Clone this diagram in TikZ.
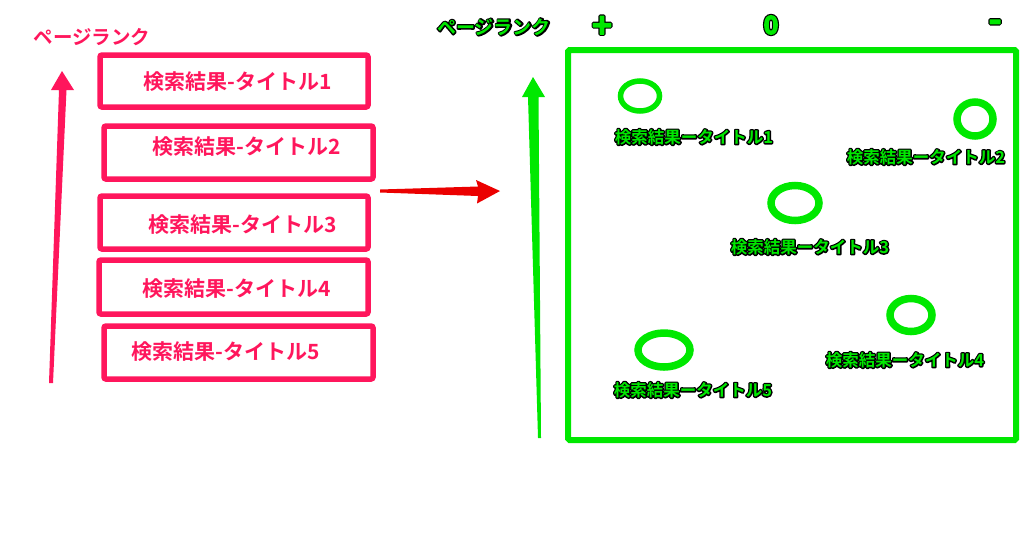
\documentclass[tikz,border=0pt]{standalone}
\usepackage{fontspec}
\newfontfamily\jp{Noto Sans CJK JP}[BoldFont={Noto Sans CJK JP Bold}]
\definecolor{pk}{RGB}{255,22,92}
\definecolor{gr}{RGB}{0,232,0}
\definecolor{rd}{RGB}{235,0,0}
\newcommand{\gtxt}[1]{\leavevmode\rlap{\special{pdf:literal direct 0 0 0 RG 1 Tr 2.8 w 1 J 1 j}#1\special{pdf:literal direct 0 Tr}}\textcolor{gr}{#1}}
\newcommand{\gbig}[1]{\leavevmode\rlap{\special{pdf:literal direct 0 0 0 RG 1 Tr 3.6 w 1 J 1 j}#1\special{pdf:literal direct 0 Tr}}\textcolor{gr}{\special{pdf:literal direct 0 0.91 0 RG 2 Tr 1.2 w 1 J 1 j}#1\special{pdf:literal direct 0 Tr}}}
\tikzset{
  pbox/.style={draw=pk, line width=5.5pt, rounded corners=2pt},
  ptext/.style={text=pk, font=\jp\bfseries\fontsize{21}{24}\selectfont, inner sep=0pt},
  gring/.style={draw=gr, line width=#1},
  glabel/.style={font=\jp\bfseries\fontsize{16.5}{19}\selectfont, inner sep=0pt},
  gtop/.style={font=\jp\bfseries\fontsize{19}{22}\selectfont, inner sep=0pt},
}
\begin{document}
\begin{tikzpicture}[x=1pt,y=-1pt]
\useasboundingbox (0,0) rectangle (1024,542);

% ---- left side ----
\node[ptext, font=\jp\bfseries\fontsize{19.5}{22}\selectfont] (ltitle) at (92,37) {ページランク};

\fill[pk] (49,383) -- (59,90) -- (51,90) -- (62,71) -- (74,90) -- (66.5,90) -- (53,383) -- cycle;

\draw[pbox] (100,55) rectangle (368,107);
\draw[pbox] (104,126) rectangle (373,179);
\draw[pbox] (100,196) rectangle (368,249);
\draw[pbox] (99,260) rectangle (368,314);
\draw[pbox] (104,326) rectangle (373,379);

\node[ptext] (t1) at (238,82) {検索結果-タイトル1};
\node[ptext] (t2) at (247,147) {検索結果-タイトル2};
\node[ptext] (t3) at (243,225) {検索結果-タイトル3};
\node[ptext] (t4) at (237,289) {検索結果-タイトル4};
\node[ptext] (t5) at (226,352) {検索結果-タイトル5};

% red arrow
\fill[rd] (380,189.5) -- (478,186.5) -- (476,180) -- (500,191) -- (477,203.5) -- (478,196) -- (380,192.5) -- cycle;

% ---- right side ----
\node[gtop] (rtitle) at (494,27) {\gtxt{ページランク}};
\node[gtop, font=\jp\bfseries\fontsize{34}{36}\selectfont] (plus) at (602,27) {\gbig{+}};
\node[gtop, font=\jp\bfseries\fontsize{25}{27}\selectfont] (zero) at (771,25) {\gbig{0}};
\node[gtop, font=\jp\bfseries\fontsize{36}{38}\selectfont] (minus) at (995,26) {\gbig{-}};

\fill[gr] (538,438) -- (528,97) -- (522,97) -- (533,77) -- (545,97) -- (538.5,97) -- (541,438) -- cycle;

\draw[draw=gr, line width=6pt, rounded corners=1.5pt] (568,50) rectangle (1016,440);

\draw[gring=5.5pt] (640,96) ellipse [x radius=19.5, y radius=15];
\draw[gring=7.5pt] (975,119) ellipse [x radius=18, y radius=17];
\draw[gring=7.5pt] (795,203) ellipse [x radius=24, y radius=17.5];
\draw[gring=7.5pt] (911,315) ellipse [x radius=21, y radius=16.5];
\draw[gring=7.5pt] (664,350) ellipse [x radius=26, y radius=17];

\node[glabel] (g1) at (694,137) {\gtxt{検索結果ータイトル1}};
\node[glabel] (g2) at (926,157) {\gtxt{検索結果ータイトル2}};
\node[glabel] (g3) at (810,247) {\gtxt{検索結果ータイトル3}};
\node[glabel] (g4) at (905,360) {\gtxt{検索結果ータイトル4}};
\node[glabel] (g5) at (693,390) {\gtxt{検索結果ータイトル5}};
\end{tikzpicture}
\end{document}
